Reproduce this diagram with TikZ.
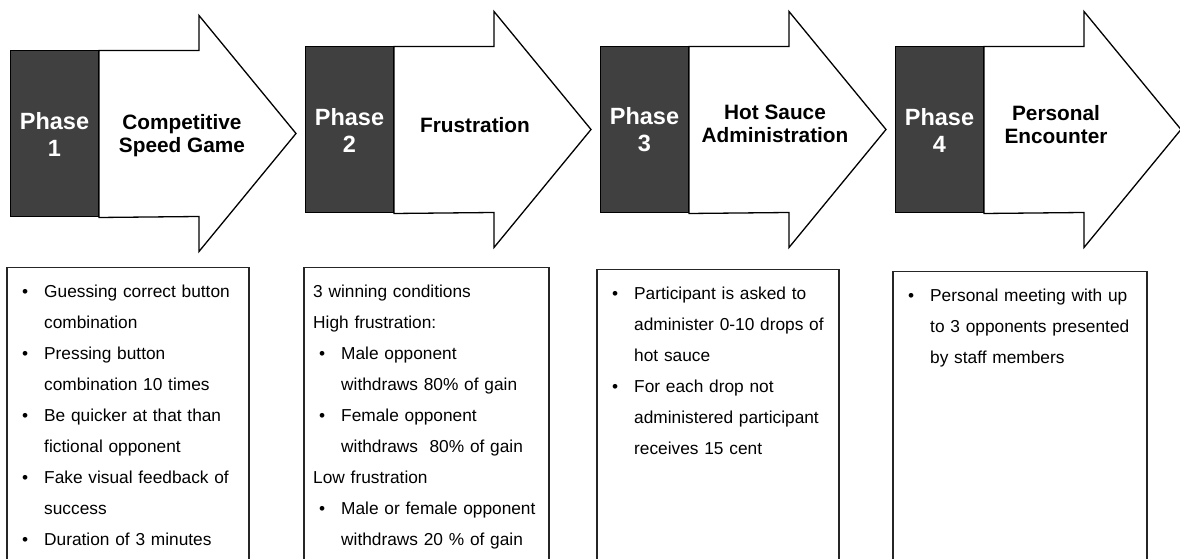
\documentclass[tikz,border=0pt]{standalone}
\usepackage{fontspec}
\setmainfont{Liberation Sans}
\usetikzlibrary{positioning}
\definecolor{phasegray}{HTML}{404040}
\newcommand{\bitem}{\makebox[28pt][l]{\hspace*{6pt}\textbullet}}
\newcommand{\bcont}{\hspace*{28pt}}

\begin{document}
\begin{tikzpicture}[x=1pt, y=1pt,
    phasebox/.style={rectangle, draw, fill=phasegray, text=white, minimum width=88pt, minimum height=166pt, inner sep=0pt, align=center, font=\fontsize{23.5}{27}\selectfont\bfseries, line width=1pt},
    phasetitle/.style={align=center, font=\fontsize{20.8}{23}\selectfont\bfseries},
    phasearrow/.style={draw, fill=white, line width=1.3pt, line join=miter},
    infotext/.style={anchor=north west, inner xsep=9pt, inner ysep=17pt, text width=236pt, align=left, font=\fontsize{17.3}{31}\selectfont},
    infoframe/.style={draw=black!85, line width=1.1pt}]
    \useasboundingbox (0,0) rectangle (1180,559);
    \clip (0,0) rectangle (1180,559);

    % phase boxes
    \node [phasebox] (ph1) at (54.5,425) {Phase\\1};
    \node [phasebox, right=206pt of ph1, yshift=4pt] (ph2) {Phase\\2};
    \node [phasebox, right=206pt of ph2] (ph3) {Phase\\3};
    \node [phasebox, right=206pt of ph3] (ph4) {Phase\\4};

    % arrows
    \draw [phasearrow] (ph1.north east) -- ++(100,0) -- ++(0,35) -- ++(97,-118) -- ++(-97,-118) -- ++(0,35) -- (ph1.south east) -- cycle;
    \draw [phasearrow] (ph2.north east) -- ++(100,0) -- ++(0,35) -- ++(97,-118) -- ++(-97,-118) -- ++(0,35) -- (ph2.south east) -- cycle;
    \draw [phasearrow] (ph3.north east) -- ++(100,0) -- ++(0,35) -- ++(97,-118) -- ++(-97,-118) -- ++(0,35) -- (ph3.south east) -- cycle;
    \draw [phasearrow] (ph4.north east) -- ++(100,0) -- ++(0,35) -- ++(97,-118) -- ++(-97,-118) -- ++(0,35) -- (ph4.south east) -- cycle;

    \node [phasetitle, xshift=83pt, yshift=-2pt] (t1) at (ph1.east) {Competitive\\Speed Game};
    \node [phasetitle, xshift=81pt, yshift=5pt] (t2) at (ph2.east) {Frustration};
    \node [phasetitle, xshift=86pt, yshift=6pt] (t3) at (ph3.east) {Hot Sauce\\Administration};
    \node [phasetitle, xshift=72pt, yshift=5pt] (t4) at (ph4.east) {Personal\\Encounter};

    % description boxes
    \node [infotext, below=50pt of ph1.south west, anchor=north west, xshift=-3pt] (info1) {%
        \bitem Guessing correct button\\
        \bcont combination\\
        \bitem Pressing button\\
        \bcont combination 10 times\\
        \bitem Be quicker at that than\\
        \bcont fictional opponent\\
        \bitem Fake visual feedback of\\
        \bcont success\\
        \bitem Duration of 3 minutes};
    \node [infotext, below=54pt of ph2.south west, anchor=north west, xshift=-1pt] (info2) {%
        3 winning conditions\\
        High frustration:\\
        \bitem Male opponent\\
        \bcont withdraws 80\% of gain\\
        \bitem Female opponent\\
        \bcont withdraws\ \ 80\% of gain\\
        Low frustration\\
        \bitem Male or female opponent\\
        \bcont withdraws 20 \% of gain};
    \node [infotext, below=56pt of ph3.south west, anchor=north west, xshift=-3pt] (info3) {%
        \bitem Participant is asked to\\
        \bcont administer 0-10 drops of\\
        \bcont hot sauce\\
        \bitem For each drop not\\
        \bcont administered participant\\
        \bcont receives 15 cent};
    \node [infotext, below=58pt of ph4.south west, anchor=north west, xshift=-2pt] (info4) {%
        \bitem Personal meeting with up\\
        \bcont to 3 opponents presented\\
        \bcont by staff members};

    \draw [infoframe] (info1.north west) rectangle ++(242,-330);
    \draw [infoframe] (info2.north west) rectangle ++(245,-330);
    \draw [infoframe] (info3.north west) rectangle ++(242,-330);
    \draw [infoframe] (info4.north west) rectangle ++(254,-330);
\end{tikzpicture}
\end{document}
